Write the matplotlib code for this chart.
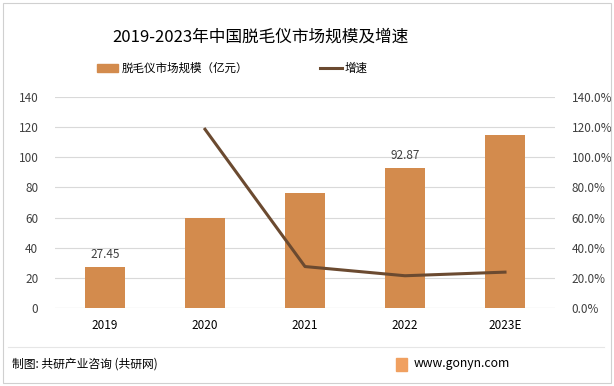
import matplotlib.pyplot as plt
from matplotlib.lines import Line2D
from matplotlib.patches import Rectangle

plt.rcParams['font.family'] = ['Noto Sans CJK SC', 'DejaVu Sans']

years = ['2019', '2020', '2021', '2022', '2023E']
scale = [27.45, 60.0, 76.5, 92.87, 115.0]
growth = [None, 118.6, 27.5, 21.4, 23.8]
labelled = {0: '27.45', 3: '92.87'}

bar_color = '#D38B4D'
line_color = '#6B4A30'
grid_color = '#D9D9D9'
text_color = '#404040'

fig = plt.figure(figsize=(6.14, 3.86), dpi=100)
ax = fig.add_axes([55 / 614, 1 - 308 / 386, 500 / 614, 211 / 386])
x = list(range(len(years)))
ax.bar(x, scale, width=0.4, color=bar_color, zorder=2)
for i, t in labelled.items():
    ax.text(i, scale[i] + 4, t, ha='center', va='bottom', fontsize=8.5, color=text_color)
ax.set_xlim(-0.5, len(years) - 0.5)
ax.set_ylim(0, 140)
ax.set_yticks(range(0, 141, 20))
ax.set_xticks(x)
ax.set_xticklabels(years, fontsize=8.5, color='black')
ax.tick_params(axis='y', labelsize=8.5, labelcolor=text_color, length=0, pad=12)
ax.tick_params(axis='x', length=0, pad=8)
ax.grid(axis='y', color=grid_color, linewidth=0.8, zorder=0)
for s in ax.spines.values():
    s.set_visible(False)
ax.axhline(0, color=grid_color, linewidth=0.8, zorder=1)

ax2 = ax.twinx()
gx = [i for i, g in enumerate(growth) if g is not None]
gy = [g for g in growth if g is not None]
ax2.plot(gx, gy, color=line_color, linewidth=2.2, zorder=3)
ax2.set_ylim(0, 140)
ax2.set_yticks(range(0, 141, 20))
ax2.set_yticklabels([f'{v:.1f}%' for v in range(0, 141, 20)])
ax2.tick_params(axis='y', labelsize=8.5, labelcolor=text_color, length=0, pad=12)
for s in ax2.spines.values():
    s.set_visible(False)

fig.text(260 / 614, 1 - 37 / 386, '2019-2023年中国脱毛仪市场规模及增速', ha='center', va='center',
         fontsize=12, color='black')

# legend
fig.patches.append(Rectangle((97 / 614, 1 - 72 / 386), 21 / 614, 8 / 386,
                             transform=fig.transFigure, color=bar_color))
fig.text(122 / 614, 1 - 68 / 386, '脱毛仪市场规模（亿元）', va='center', fontsize=8.3, color='black')
fig.lines.append(Line2D([320 / 614, 342 / 614], [1 - 68 / 386] * 2, transform=fig.transFigure,
                        color=line_color, linewidth=2.2))
fig.text(345 / 614, 1 - 68 / 386, '增速', va='center', fontsize=8.3, color='black')

# footer
fig.lines.append(Line2D([8 / 614, 604 / 614], [1 - 347 / 386] * 2, transform=fig.transFigure,
                        color='#E6E6E6', linewidth=0.8))
fig.text(12 / 614, 1 - 364 / 386, '制图: 共研产业咨询 (共研网)', va='center', fontsize=8.5, color='black')
fig.text(414 / 614, 1 - 364 / 386, 'www.gonyn.com', va='center', ha='left', fontsize=8.8, color='black')
fig.patches.append(Rectangle((396 / 614, 1 - 371 / 386), 11 / 614, 13 / 386,
                             transform=fig.transFigure, color='#F0A060'))

# outer border
fig.patches.append(Rectangle((3 / 614, 3 / 386), 608 / 614, 380 / 386, transform=fig.transFigure,
                             fill=False, edgecolor='#D0D0D0', linewidth=0.8))

fig.savefig('out.png', dpi=100)
